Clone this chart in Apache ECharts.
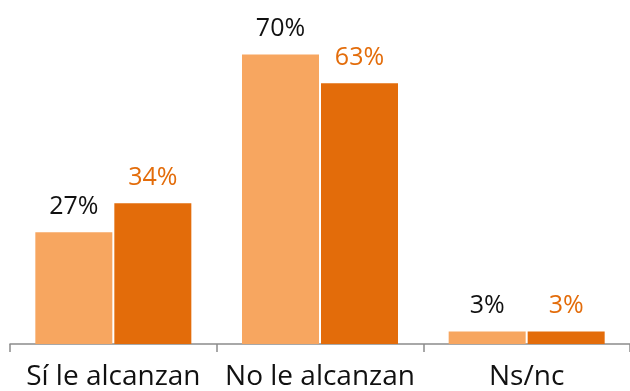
<!DOCTYPE html>
<html>
<head>
<meta charset="utf-8">
<script src="https://cdn.jsdelivr.net/npm/echarts@6/dist/echarts.min.js"></script>
<style>
  html, body { margin: 0; padding: 0; background: #fff; }
  #chart { width: 630px; height: 391px; }
</style>
</head>
<body>
<div id="chart"></div>
<script>
// Categories and two series of percentages
const categories = ['Sí le alcanzan', 'No le alcanzan', 'Ns/nc'];
const seriesA = [27, 70, 3];
const seriesB = [34, 63, 3];

const FONT = '"Open Sans", sans-serif';

const chart = echarts.init(document.getElementById('chart'), null, { renderer: 'canvas' });
chart.setOption({
  animation: false,
  grid: { left: 10, right: 0, top: 13, bottom: 45, containLabel: false },
  xAxis: {
    type: 'category',
    data: categories,
    axisLine: { show: true, lineStyle: { color: '#8c8c8c', width: 1.5 } },
    axisTick: { show: true, length: 8, lineStyle: { color: '#8c8c8c', width: 1.5 } },
    axisLabel: { color: '#111', fontFamily: FONT, fontSize: 28, margin: 19, interval: 0 }
  },
  yAxis: { type: 'value', min: 0, max: 80, show: false, splitLine: { show: false } },
  series: [
    {
      type: 'bar',
      data: seriesA,
      barWidth: 77,
      barGap: '2.6%',
      itemStyle: { color: '#F7A660' },
      label: {
        show: true, position: 'top', distance: 13,
        formatter: '{c}%', color: '#111', fontFamily: FONT, fontSize: 25
      }
    },
    {
      type: 'bar',
      data: seriesB,
      barWidth: 77,
      itemStyle: { color: '#E36C0A' },
      label: {
        show: true, position: 'top', distance: 13,
        formatter: '{c}%', color: '#E36C0A', fontFamily: FONT, fontSize: 25
      }
    }
  ]
});
</script>
</body>
</html>
